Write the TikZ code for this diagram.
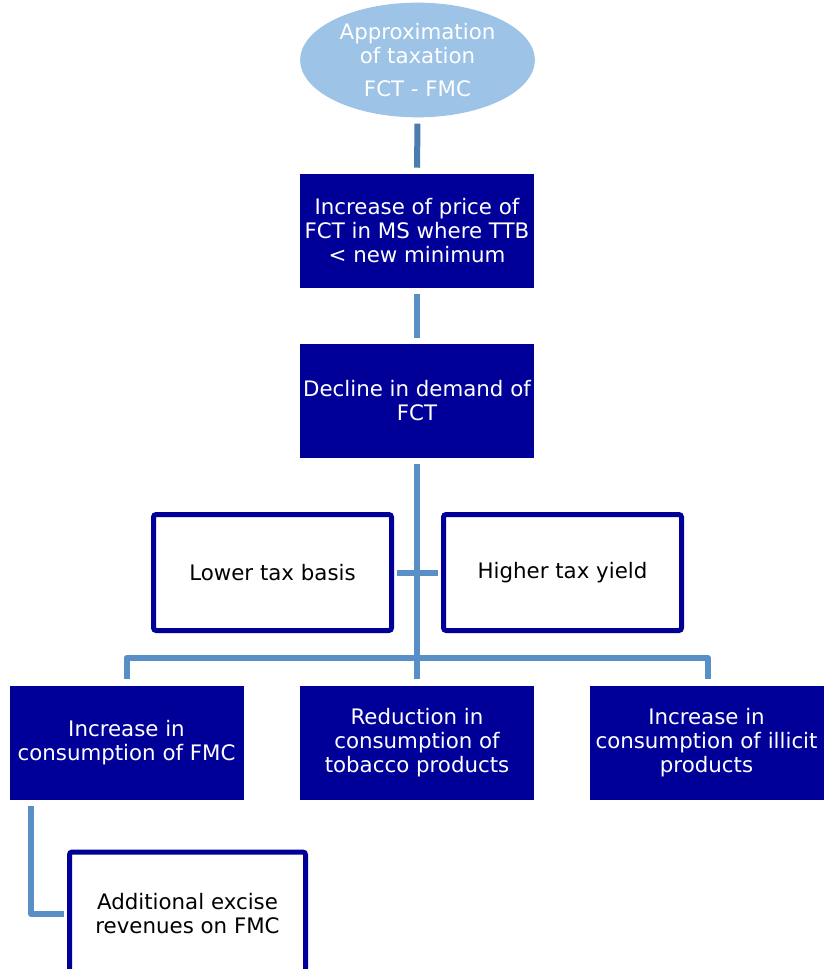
\documentclass[tikz,border=0pt]{standalone}
\usepackage{fontspec}
\setmainfont{DejaVu Sans}
\usetikzlibrary{shapes.geometric}
\definecolor{navy}{RGB}{0,0,153}
\definecolor{paleblue}{RGB}{157,195,230}
\definecolor{linkdark}{RGB}{74,124,174}
\definecolor{linkblue}{RGB}{88,143,199}
\begin{document}
\begin{tikzpicture}[x=0.75pt,y=-0.75pt,
  every node/.style={font=\fontsize{16}{18}\selectfont,align=center,inner sep=2pt},
  oval/.style={ellipse,fill=paleblue,text=white,minimum width=176pt,minimum height=86pt},
  darkbox/.style={rectangle,fill=navy,text=white,minimum width=175.5pt,minimum height=85.5pt},
  whitebox/.style={rectangle,draw=navy,line width=3.75pt,fill=white,rounded corners=2pt,minimum width=178.5pt,minimum height=87pt},
  conn/.style={draw=linkblue,line width=4.5pt},
  gap/.style={shorten <=4.5pt,shorten >=4.5pt}]
  \useasboundingbox (0,0) rectangle (823,969);
  % top of the chain
  \node[oval] (approx) at (417.5,60) {Approximation\\of taxation\\[7pt]FCT - FMC};
  \node[darkbox] (price) at (417,231) {Increase of price of\\FCT in MS where TTB\\< new minimum};
  \node[darkbox] (decline) at (417,401) {Decline in demand of\\FCT};
  % side effects
  \node[whitebox] (lower) at (272.5,572.5) {Lower tax basis};
  \node[whitebox] (higher) at (562.5,572.5) {Higher tax yield};
  % consumption shifts
  \node[darkbox] (incfmc) at (126.5,742.5) {Increase in\\consumption of FMC};
  \node[darkbox] (reduct) at (417,742.5) {Reduction in\\consumption of\\tobacco products};
  \node[darkbox] (illicit) at (706.5,742.5) {Increase in\\consumption of illicit\\products};
  \node[whitebox,minimum width=177pt,minimum height=93pt] (excise) at (187.5,914) {Additional excise\\revenues on FMC};
  \coordinate (bus) at (417,658);
  % connectors
  \draw[conn,gap,draw=linkdark] (approx.south) -- (price.north);
  \draw[conn,gap] (price.south) -- (decline.north);
  \draw[conn,shorten <=4.5pt] (decline.south) -- (bus);
  \draw[conn,shorten <=1.9pt,shorten >=1.9pt] (lower.east) -- (higher.west);
  \draw[conn,shorten >=4.5pt] (bus) -- (reduct.north);
  \draw[conn,shorten >=4.5pt,line join=round] (bus) -| (incfmc.north);
  \draw[conn,shorten >=4.5pt,line join=round] (bus) -| ([xshift=1pt]illicit.north);
  \draw[conn,shorten <=4.5pt,shorten >=1.9pt,line join=round] ([xshift=16.5pt]incfmc.south west) |- (excise.west);
\end{tikzpicture}
\end{document}
